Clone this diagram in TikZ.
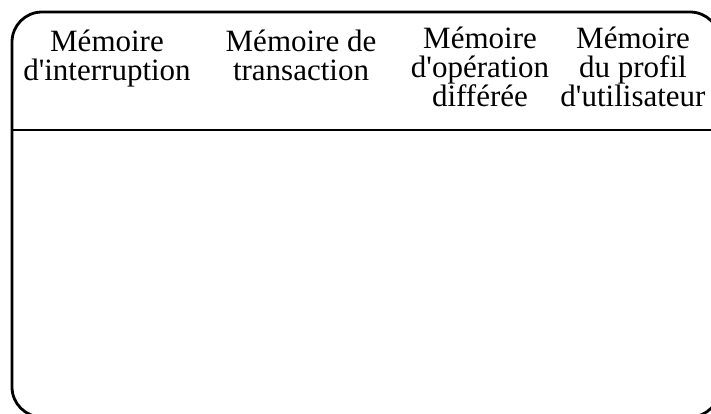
\documentclass[tikz,border=0pt]{standalone}
\usepackage{fontspec}
\setmainfont{Liberation Serif}[Ligatures=TeXOff]
\begin{document}
\begin{tikzpicture}[x=1pt,y=-1pt,
  frame/.style={line width=2.8pt,rounded corners=30pt},
  rule/.style={line width=2.8pt},
  head/.style={align=center,inner sep=0pt,anchor=base,
    font=\fontsize{31}{29}\selectfont}]
\useasboundingbox (0,0) rectangle (711,413);
\clip (0,0) rectangle (711,413);
% outer rounded frame and header rule
\coordinate (tl) at (12,12);
\coordinate (br) at (720,417);
\draw[frame] (tl) rectangle (br);
\coordinate (hl) at (12,130);
\coordinate (hr) at (720,130);
\draw[rule] (hl) -- (hr);
% column headings (anchored at the baseline of their last line)
\node[head] (c1) at (107,80) {Mémoire\\d'interruption};
\node[head] (c2) at (301,80) {Mémoire de\\transaction};
\node[head] (c3) at (480,106) {Mémoire\\d'opération\\différée};
\node[head] (c4) at (633,106) {Mémoire\\du profil\\d'utilisateur};
\end{tikzpicture}
\end{document}
